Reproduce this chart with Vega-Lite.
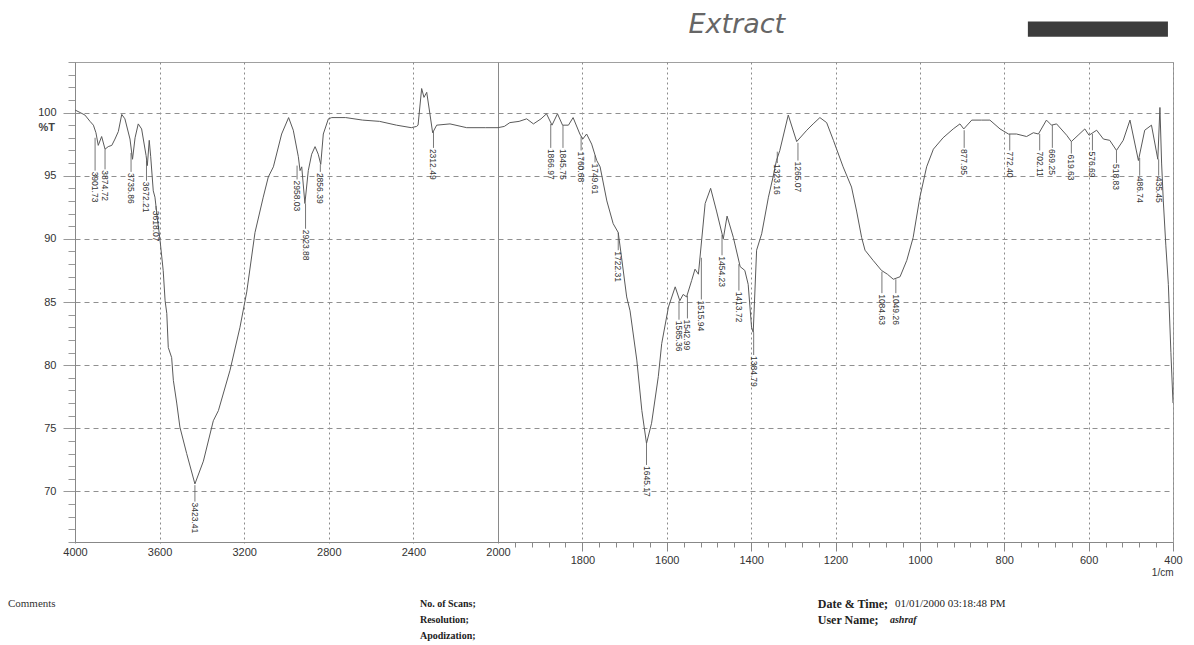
{
  "$schema": "https://vega.github.io/schema/vega-lite/v6.json",
  "width": 1098,
  "height": 480,
  "autosize": "none",
  "padding": {"left": 75, "top": 62, "right": 21, "bottom": 103},
  "background": "white",
  "config": {
    "view": {"stroke": "#a0a0a0", "strokeWidth": 1},
    "font": "Liberation Sans"
  },
  "datasets": {
    "spectrum": [
      {"wn": 4000, "T": 100.2}, {"wn": 3976, "T": 100.0}, {"wn": 3953, "T": 99.8}, {"wn": 3929, "T": 99.3},
      {"wn": 3913, "T": 99.0}, {"wn": 3901, "T": 98.4}, {"wn": 3890, "T": 97.4}, {"wn": 3874, "T": 98.1},
      {"wn": 3858, "T": 97.1}, {"wn": 3843, "T": 97.3}, {"wn": 3826, "T": 97.4}, {"wn": 3811, "T": 97.9},
      {"wn": 3795, "T": 98.5}, {"wn": 3779, "T": 99.85}, {"wn": 3764, "T": 99.5}, {"wn": 3740, "T": 97.9},
      {"wn": 3728, "T": 96.3}, {"wn": 3716, "T": 98.0}, {"wn": 3701, "T": 99.1}, {"wn": 3685, "T": 98.7},
      {"wn": 3664, "T": 96.6}, {"wn": 3658, "T": 95.8}, {"wn": 3649, "T": 97.8}, {"wn": 3642, "T": 96.5},
      {"wn": 3630, "T": 93.8}, {"wn": 3622, "T": 93.3}, {"wn": 3611, "T": 91.7}, {"wn": 3598, "T": 89.9},
      {"wn": 3583, "T": 87.5}, {"wn": 3574, "T": 85.1}, {"wn": 3566, "T": 84.1}, {"wn": 3559, "T": 81.4},
      {"wn": 3543, "T": 80.6}, {"wn": 3535, "T": 78.8}, {"wn": 3519, "T": 77.0}, {"wn": 3504, "T": 75.1},
      {"wn": 3472, "T": 73.0}, {"wn": 3433, "T": 70.6}, {"wn": 3393, "T": 72.4}, {"wn": 3346, "T": 75.6},
      {"wn": 3322, "T": 76.4}, {"wn": 3267, "T": 79.6}, {"wn": 3220, "T": 83.0}, {"wn": 3188, "T": 85.8},
      {"wn": 3149, "T": 90.5}, {"wn": 3110, "T": 93.3}, {"wn": 3086, "T": 94.9}, {"wn": 3062, "T": 95.7},
      {"wn": 3023, "T": 98.3}, {"wn": 2990, "T": 99.6}, {"wn": 2968, "T": 98.6}, {"wn": 2944, "T": 96.5},
      {"wn": 2936, "T": 95.4}, {"wn": 2928, "T": 95.7}, {"wn": 2913, "T": 92.8}, {"wn": 2897, "T": 95.4},
      {"wn": 2881, "T": 96.7}, {"wn": 2865, "T": 97.3}, {"wn": 2850, "T": 96.7}, {"wn": 2838, "T": 95.9},
      {"wn": 2826, "T": 98.3}, {"wn": 2802, "T": 99.5}, {"wn": 2786, "T": 99.6}, {"wn": 2720, "T": 99.6},
      {"wn": 2640, "T": 99.4}, {"wn": 2560, "T": 99.3}, {"wn": 2480, "T": 99.0}, {"wn": 2410, "T": 98.8},
      {"wn": 2385, "T": 98.9}, {"wn": 2378, "T": 99.0}, {"wn": 2361, "T": 101.9}, {"wn": 2350, "T": 101.2},
      {"wn": 2337, "T": 101.6}, {"wn": 2322, "T": 99.9}, {"wn": 2309, "T": 98.4}, {"wn": 2290, "T": 99.0},
      {"wn": 2227, "T": 99.1}, {"wn": 2148, "T": 98.8}, {"wn": 2060, "T": 98.8}, {"wn": 2000, "T": 98.8},
      {"wn": 1985, "T": 98.9}, {"wn": 1972, "T": 99.2}, {"wn": 1950, "T": 99.3}, {"wn": 1932, "T": 99.5},
      {"wn": 1916, "T": 99.1}, {"wn": 1898, "T": 99.5}, {"wn": 1885, "T": 99.9}, {"wn": 1872, "T": 99.0},
      {"wn": 1859, "T": 99.9}, {"wn": 1847, "T": 99.0}, {"wn": 1833, "T": 99.0}, {"wn": 1822, "T": 99.6},
      {"wn": 1806, "T": 98.3}, {"wn": 1799, "T": 97.9}, {"wn": 1790, "T": 98.3}, {"wn": 1778, "T": 97.5},
      {"wn": 1766, "T": 96.2}, {"wn": 1758, "T": 95.7}, {"wn": 1742, "T": 93.0}, {"wn": 1727, "T": 91.2},
      {"wn": 1715, "T": 90.5}, {"wn": 1707, "T": 88.5}, {"wn": 1695, "T": 85.4}, {"wn": 1687, "T": 84.3},
      {"wn": 1671, "T": 80.4}, {"wn": 1659, "T": 76.4}, {"wn": 1648, "T": 73.8}, {"wn": 1636, "T": 75.4},
      {"wn": 1620, "T": 79.1}, {"wn": 1612, "T": 81.7}, {"wn": 1596, "T": 84.6}, {"wn": 1580, "T": 86.2},
      {"wn": 1569, "T": 85.1}, {"wn": 1561, "T": 85.6}, {"wn": 1553, "T": 85.4}, {"wn": 1541, "T": 86.7},
      {"wn": 1533, "T": 87.6}, {"wn": 1525, "T": 87.2}, {"wn": 1509, "T": 92.8}, {"wn": 1496, "T": 94.0},
      {"wn": 1482, "T": 92.2}, {"wn": 1466, "T": 90.0}, {"wn": 1457, "T": 91.8}, {"wn": 1442, "T": 90.1},
      {"wn": 1426, "T": 87.8}, {"wn": 1415, "T": 87.5}, {"wn": 1407, "T": 86.4}, {"wn": 1399, "T": 83.0},
      {"wn": 1395, "T": 82.6}, {"wn": 1387, "T": 89.1}, {"wn": 1375, "T": 90.4}, {"wn": 1359, "T": 93.3},
      {"wn": 1348, "T": 94.9}, {"wn": 1340, "T": 96.2}, {"wn": 1332, "T": 97.0}, {"wn": 1312, "T": 99.8},
      {"wn": 1292, "T": 97.7}, {"wn": 1268, "T": 98.6}, {"wn": 1253, "T": 99.1}, {"wn": 1237, "T": 99.6},
      {"wn": 1221, "T": 99.2}, {"wn": 1205, "T": 97.8}, {"wn": 1182, "T": 95.7}, {"wn": 1162, "T": 94.1},
      {"wn": 1150, "T": 92.2}, {"wn": 1138, "T": 90.1}, {"wn": 1130, "T": 89.1}, {"wn": 1111, "T": 88.3},
      {"wn": 1091, "T": 87.5}, {"wn": 1077, "T": 87.2}, {"wn": 1063, "T": 86.8}, {"wn": 1047, "T": 87.0},
      {"wn": 1031, "T": 88.3}, {"wn": 1016, "T": 90.1}, {"wn": 1000, "T": 93.3}, {"wn": 984, "T": 95.7},
      {"wn": 968, "T": 97.1}, {"wn": 945, "T": 98.0}, {"wn": 921, "T": 98.7}, {"wn": 905, "T": 99.1},
      {"wn": 896, "T": 98.7}, {"wn": 877, "T": 99.4}, {"wn": 854, "T": 99.4}, {"wn": 834, "T": 99.4},
      {"wn": 810, "T": 98.7}, {"wn": 790, "T": 98.3}, {"wn": 771, "T": 98.3}, {"wn": 747, "T": 98.1},
      {"wn": 731, "T": 98.4}, {"wn": 719, "T": 98.3}, {"wn": 700, "T": 99.4}, {"wn": 688, "T": 99.0},
      {"wn": 676, "T": 99.1}, {"wn": 652, "T": 98.2}, {"wn": 641, "T": 97.7}, {"wn": 625, "T": 98.2},
      {"wn": 609, "T": 98.7}, {"wn": 599, "T": 98.2}, {"wn": 581, "T": 98.6}, {"wn": 565, "T": 97.9},
      {"wn": 550, "T": 97.8}, {"wn": 534, "T": 97.0}, {"wn": 518, "T": 97.8}, {"wn": 502, "T": 99.4},
      {"wn": 482, "T": 96.2}, {"wn": 467, "T": 98.6}, {"wn": 451, "T": 99.0}, {"wn": 436, "T": 96.3},
      {"wn": 431, "T": 100.4}, {"wn": 427, "T": 96.0}, {"wn": 423, "T": 93.0}, {"wn": 417, "T": 89.5},
      {"wn": 411, "T": 86.4}, {"wn": 405, "T": 81.0}, {"wn": 400, "T": 77.0}
    ],
    "peaks": [
      {"pos": 3905, "T": 98.0, "Tl": 95.4, "label": "3901.73"},
      {"pos": 3858, "T": 97.1, "Tl": 95.5, "label": "3874.72"},
      {"pos": 3735, "T": 96.8, "Tl": 95.3, "label": "3735.86"},
      {"pos": 3662, "T": 96.2, "Tl": 94.6, "label": "3672.21"},
      {"pos": 3617, "T": 92.6, "Tl": 92.3, "label": "3618.07"},
      {"pos": 3433, "T": 70.5, "Tl": 69.2, "label": "3423.41"},
      {"pos": 2950, "T": 95.8, "Tl": 94.7, "label": "2958.03"},
      {"pos": 2910, "T": 92.8, "Tl": 90.8, "label": "2923.88"},
      {"pos": 2840, "T": 95.9, "Tl": 95.3, "label": "2856.39"},
      {"pos": 2305, "T": 98.5, "Tl": 97.2, "label": "2312.49"},
      {"pos": 1875, "T": 99.1, "Tl": 97.2, "label": "1866.97"},
      {"pos": 1846, "T": 99.0, "Tl": 97.2, "label": "1845.75"},
      {"pos": 1803, "T": 98.1, "Tl": 97.0, "label": "1760.68"},
      {"pos": 1770, "T": 96.6, "Tl": 96.05, "label": "1749.61"},
      {"pos": 1715, "T": 90.5, "Tl": 89.1, "label": "1722.31"},
      {"pos": 1648, "T": 73.8, "Tl": 72.1, "label": "1645.17"},
      {"pos": 1571, "T": 85.1, "Tl": 83.6, "label": "1585.36"},
      {"pos": 1551, "T": 85.5, "Tl": 83.7, "label": "1542.99"},
      {"pos": 1518, "T": 88.5, "Tl": 85.2, "label": "1515.94"},
      {"pos": 1469, "T": 90.3, "Tl": 88.7, "label": "1454.23"},
      {"pos": 1429, "T": 88.0, "Tl": 85.9, "label": "1413.72"},
      {"pos": 1394, "T": 82.6, "Tl": 80.8, "label": "1384.79"},
      {"pos": 1338, "T": 96.9, "Tl": 96.0, "label": "1323.16"},
      {"pos": 1289, "T": 97.6, "Tl": 96.2, "label": "1265.07"},
      {"pos": 1090, "T": 87.4, "Tl": 85.7, "label": "1084.63"},
      {"pos": 1057, "T": 86.8, "Tl": 85.7, "label": "1049.26"},
      {"pos": 895, "T": 98.6, "Tl": 97.2, "label": "877.95"},
      {"pos": 787, "T": 98.3, "Tl": 97.0, "label": "772.40"},
      {"pos": 716, "T": 98.3, "Tl": 97.0, "label": "702.11"},
      {"pos": 686, "T": 99.0, "Tl": 97.2, "label": "669.25"},
      {"pos": 641, "T": 97.7, "Tl": 96.75, "label": "619.63"},
      {"pos": 591, "T": 98.3, "Tl": 97.0, "label": "576.69"},
      {"pos": 534, "T": 97.0, "Tl": 96.0, "label": "518.83"},
      {"pos": 479, "T": 96.4, "Tl": 95.0, "label": "486.74"},
      {"pos": 434, "T": 96.3, "Tl": 95.0, "label": "435.45"}
    ]
  },
  "layer": [
    {
      "data": {"name": "spectrum"},
      "mark": {"type": "line", "color": "#5a5a5a", "strokeWidth": 1, "clip": true},
      "encoding": {
        "x": {
          "field": "wn", "type": "quantitative",
          "scale": {"domain": [4000, 2000, 400], "range": [0, 423, 1098], "zero": false, "nice": false},
          "axis": {
            "title": "1/cm",
            "titleAnchor": "end",
            "titleFont": "Liberation Sans",
            "titleFontSize": 10,
            "titleFontWeight": "normal",
            "titleColor": "#333333",
            "titlePadding": 2,
            "tickCount": 500,
            "values": [4000,3920,3840,3760,3680,3600,3520,3440,3360,3280,3200,3120,3040,2960,2880,2800,2720,2640,2560,2480,2400,2320,2240,2160,2080,2000,1960,1920,1880,1840,1800,1760,1720,1680,1640,1600,1560,1520,1480,1440,1400,1360,1320,1280,1240,1200,1160,1120,1080,1040,1000,960,920,880,840,800,760,720,680,640,600,560,520,480,440,400],
            "format": "d",
            "labelExpr": "(datum.value >= 2000 ? datum.value % 400 === 0 : datum.value % 200 === 0) ? datum.label : ''",
            "labelFontSize": 11,
            "labelColor": "#333333",
            "labelPadding": 3,
            "labelOverlap": false,
            "labelFlush": false,
            "domainColor": "#888888",
            "tickColor": "#888888",
            "tickSize": {"condition": {"test": "datum.value >= 2000 ? datum.value % 400 === 0 : datum.value % 200 === 0", "value": 9}, "value": 5},
            "grid": true,
            "gridColor": "#8a8a8a",
            "gridDash": {"condition": {"test": "datum.value === 2000", "value": []}, "value": [2, 3]},
            "gridOpacity": {"condition": {"test": "datum.value >= 2000 ? datum.value % 400 === 0 : datum.value % 200 === 0", "value": 1}, "value": 0}
          }
        },
        "y": {
          "field": "T", "type": "quantitative",
          "scale": {"domain": [66, 104], "zero": false, "nice": false},
          "axis": {
            "title": null,
            "tickCount": 500,
            "values": [66,67,68,69,70,71,72,73,74,75,76,77,78,79,80,81,82,83,84,85,86,87,88,89,90,91,92,93,94,95,96,97,98,99,100,101,102,103,104],
            "format": "d",
            "labelExpr": "datum.value % 5 === 0 ? datum.label : ''",
            "labelFontSize": 11,
            "labelColor": "#333333",
            "labelPadding": 7,
            "labelOverlap": false,
            "domainColor": "#888888",
            "tickColor": "#999999",
            "tickSize": {"condition": {"test": "datum.value % 5 === 0", "value": 12}, "value": 7},
            "grid": true,
            "gridColor": "#909090",
            "gridDash": [5, 4],
            "gridOpacity": {"condition": {"test": "datum.value % 5 === 0", "value": 1}, "value": 0}
          }
        }
      }
    },
    {
      "data": {"name": "peaks"},
      "mark": {"type": "rule", "color": "#555555", "strokeWidth": 0.8},
      "encoding": {
        "x": {"field": "pos", "type": "quantitative"},
        "y": {"field": "T", "type": "quantitative"},
        "y2": {"field": "Tl"}
      }
    },
    {
      "data": {"name": "peaks"},
      "mark": {"type": "text", "angle": 90, "align": "left", "baseline": "middle", "fontSize": 8.5, "color": "#333333", "dx": 1},
      "encoding": {
        "x": {"field": "pos", "type": "quantitative"},
        "y": {"field": "Tl", "type": "quantitative"},
        "text": {"field": "label"}
      }
    },
    {
      "data": {"values": [{}]},
      "mark": {"type": "rect", "color": "#3c3c3c"},
      "encoding": {
        "x": {"datum": 744},
        "x2": {"datum": 412},
        "y": {"datum": 107.2},
        "y2": {"datum": 106.0}
      }
    },
    {
      "data": {"values": [{}]},
      "mark": {"type": "text", "text": "Extract", "align": "center", "baseline": "middle", "font": "DejaVu Sans", "fontSize": 27, "fontStyle": "italic", "color": "#666666"},
      "encoding": {"x": {"datum": 1434}, "y": {"datum": 106.9}}
    },
    {
      "data": {"values": [{}]},
      "mark": {"type": "text", "text": "%T", "align": "right", "baseline": "middle", "dx": -20, "fontSize": 11, "fontWeight": "bold", "color": "#444444"},
      "encoding": {"x": {"datum": 4000}, "y": {"datum": 98.75}}
    },
    {
      "data": {"values": [{}]},
      "mark": {"type": "text", "text": "Comments", "align": "left", "baseline": "middle", "font": "Liberation Serif", "fontSize": 11, "color": "#333333"},
      "encoding": {"x": {"datum": 4317}, "y": {"datum": 61.1}}
    },
    {
      "data": {"values": [{}]},
      "mark": {"type": "text", "text": "No. of Scans;", "align": "left", "baseline": "middle", "font": "Liberation Serif", "fontSize": 10, "fontWeight": "bold", "color": "#222222"},
      "encoding": {"x": {"datum": 2369}, "y": {"datum": 61.1}}
    },
    {
      "data": {"values": [{}]},
      "mark": {"type": "text", "text": "Resolution;", "align": "left", "baseline": "middle", "font": "Liberation Serif", "fontSize": 10, "fontWeight": "bold", "color": "#222222"},
      "encoding": {"x": {"datum": 2369}, "y": {"datum": 59.83}}
    },
    {
      "data": {"values": [{}]},
      "mark": {"type": "text", "text": "Apodization;", "align": "left", "baseline": "middle", "font": "Liberation Serif", "fontSize": 10, "fontWeight": "bold", "color": "#222222"},
      "encoding": {"x": {"datum": 2369}, "y": {"datum": 58.56}}
    },
    {
      "data": {"values": [{}]},
      "mark": {"type": "text", "text": "Date & Time;", "align": "left", "baseline": "middle", "font": "Liberation Serif", "fontSize": 12, "fontWeight": "bold", "color": "#222222"},
      "encoding": {"x": {"datum": 1242}, "y": {"datum": 61.1}}
    },
    {
      "data": {"values": [{}]},
      "mark": {"type": "text", "text": "01/01/2000 03:18:48 PM", "align": "left", "baseline": "middle", "font": "Liberation Serif", "fontSize": 11, "color": "#222222"},
      "encoding": {"x": {"datum": 1059}, "y": {"datum": 61.1}}
    },
    {
      "data": {"values": [{}]},
      "mark": {"type": "text", "text": "User Name;", "align": "left", "baseline": "middle", "font": "Liberation Serif", "fontSize": 12, "fontWeight": "bold", "color": "#222222"},
      "encoding": {"x": {"datum": 1242}, "y": {"datum": 59.83}}
    },
    {
      "data": {"values": [{}]},
      "mark": {"type": "text", "text": "ashraf", "align": "left", "baseline": "middle", "font": "Liberation Serif", "fontSize": 10, "fontStyle": "italic", "fontWeight": "bold", "color": "#222222"},
      "encoding": {"x": {"datum": 1071}, "y": {"datum": 59.83}}
    }
  ]
}
